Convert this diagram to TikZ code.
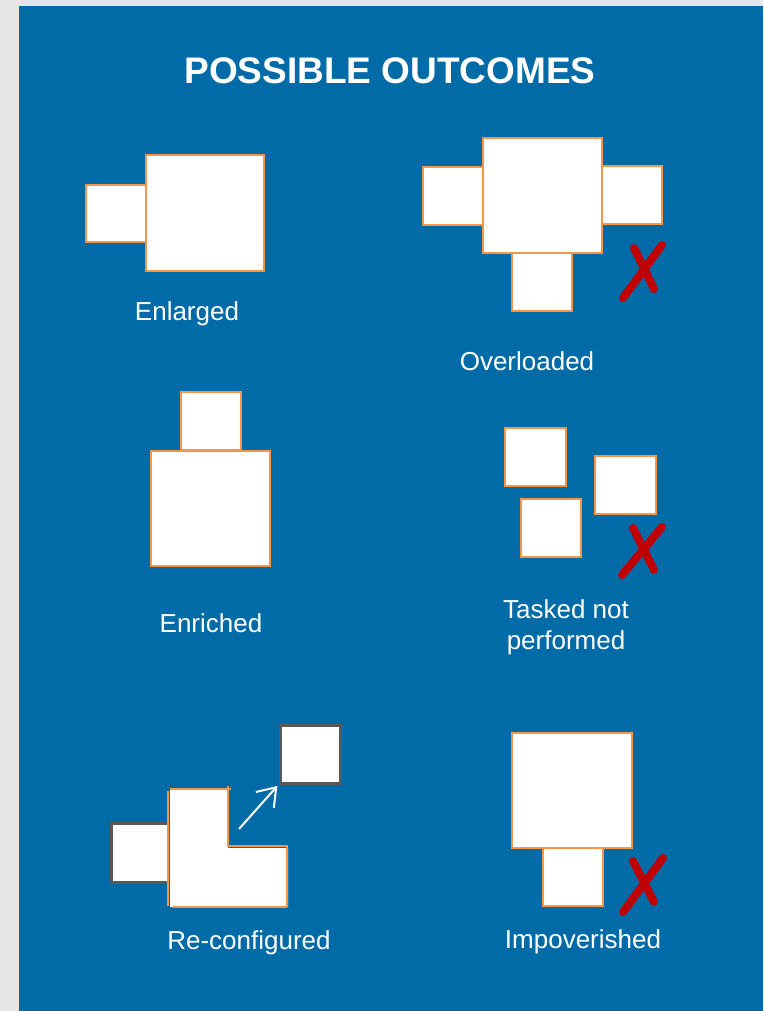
\documentclass[tikz,border=0pt]{standalone}
\usepackage{fontspec}
\setmainfont{Liberation Sans}
\usetikzlibrary{arrows.meta}
\definecolor{panelblue}{RGB}{0,107,166}
\definecolor{pagegrey}{RGB}{230,230,232}
\definecolor{boxorange}{RGB}{247,150,70}
\definecolor{boxgrey}{RGB}{89,89,89}
\definecolor{crossred}{RGB}{192,0,0}
\tikzset{
  obox/.style={draw=boxorange, fill=white, line width=2.6pt, inner sep=0pt, outer sep=0pt, rectangle},
  gbox/.style={draw=boxgrey, fill=white, line width=3pt, inner sep=0pt, outer sep=0pt, rectangle},
  lbl/.style={text=white, font=\fontsize{26}{31}\selectfont, inner sep=0pt, anchor=base},
  cross/.style={draw=crossred, line width=8pt, line cap=round},
  oline/.style={draw=boxorange, line width=2.4pt}
}
\begin{document}
\begin{tikzpicture}[x=1pt,y=-1pt]
\useasboundingbox (0,0) rectangle (763,1011);
\fill[pagegrey] (0,0) rectangle (763,1011);
\fill[panelblue] (19,6) rectangle (763,1011);

\node[text=white, font=\bfseries\fontsize{37}{44}\selectfont, inner sep=0pt, anchor=base] (title) at (390,84) {POSSIBLE OUTCOMES};

% Enlarged
\node[obox, minimum width=60pt, minimum height=57pt] (en1) at (116,213.5) {};
\node[obox, minimum width=118pt, minimum height=116pt] (en2) at (205,213) {};
\node[lbl] (enl) at (187,320) {Enlarged};

% Overloaded
\node[obox, minimum width=60pt, minimum height=58pt] (ovl) at (453,196) {};
\node[obox, minimum width=60pt, minimum height=58pt] (ovr) at (632,195) {};
\node[obox, minimum width=60pt, minimum height=58pt] (ovb) at (542,282) {};
\node[obox, minimum width=119pt, minimum height=115pt] (ovc) at (542.5,195.5) {};
\node[lbl] (ovlab) at (527,370) {Overloaded};
\coordinate (x1a) at (623,298); \coordinate (x1b) at (662,245);
\coordinate (x1c) at (634,248); \coordinate (x1d) at (654,289);
\draw[cross] (x1a) -- (x1b);
\draw[cross] (x1c) -- (x1d);

% Enriched
\node[obox, minimum width=60pt, minimum height=58pt] (ent) at (211,421) {};
\node[obox, minimum width=119pt, minimum height=115pt] (enb) at (210.5,508.5) {};
\node[lbl] (enrl) at (211,632) {Enriched};

% Tasked not performed
\node[obox, minimum width=61pt, minimum height=58pt] (t1) at (535.5,457) {};
\node[obox, minimum width=61pt, minimum height=58pt] (t2) at (625.5,485) {};
\node[obox, minimum width=60pt, minimum height=58pt] (t3) at (551,528) {};
\node[text=white, font=\fontsize{26}{31}\selectfont, inner sep=0pt, align=center] (tl) at (566,627) {Tasked not\\performed};
\coordinate (x2a) at (622,575); \coordinate (x2b) at (662,527);
\coordinate (x2c) at (633,528); \coordinate (x2d) at (654,570);
\draw[cross] (x2a) -- (x2b);
\draw[cross] (x2c) -- (x2d);

% Re-configured
\node[gbox, minimum width=57pt, minimum height=59pt] (rl) at (139.5,852.5) {};
\node[gbox, minimum width=60pt, minimum height=58pt] (rt) at (310,754) {};
\fill[white] (170,789) -- (228,789) -- (228,848) -- (288,848) -- (288,907) -- (170,907) -- cycle;
\coordinate (L1) at (170,789); \coordinate (L2) at (231,789);
\coordinate (L3) at (228,786); \coordinate (L4) at (228,846);
\coordinate (L5) at (287,846); \coordinate (L6) at (287,907);
\coordinate (L7) at (173,907); \coordinate (L8) at (168,791); \coordinate (L9) at (168,906);
\draw[oline] (L1) -- (L2);
\draw[oline] (L3) -- (L4) -- (L5) -- (L6);
\draw[oline] (L7) -- (L6);
\draw[oline] (L8) -- (L9);
\coordinate (arrs) at (239,829);
\draw[white, line width=2pt, -{Straight Barb[length=17pt,width=24pt]}, shorten >=4pt] (arrs) -- (rt.south west);
\node[lbl] (rcl) at (249,949) {Re-configured};

% Impoverished
\node[obox, minimum width=60pt, minimum height=58pt] (is) at (573,877) {};
\node[obox, minimum width=120pt, minimum height=115pt] (ib) at (572,790.5) {};
\node[lbl] (il) at (583,948) {Impoverished};
\coordinate (x3a) at (623,912); \coordinate (x3b) at (663,858);
\coordinate (x3c) at (633,861); \coordinate (x3d) at (654,902);
\draw[cross] (x3a) -- (x3b);
\draw[cross] (x3c) -- (x3d);
\end{tikzpicture}
\end{document}
